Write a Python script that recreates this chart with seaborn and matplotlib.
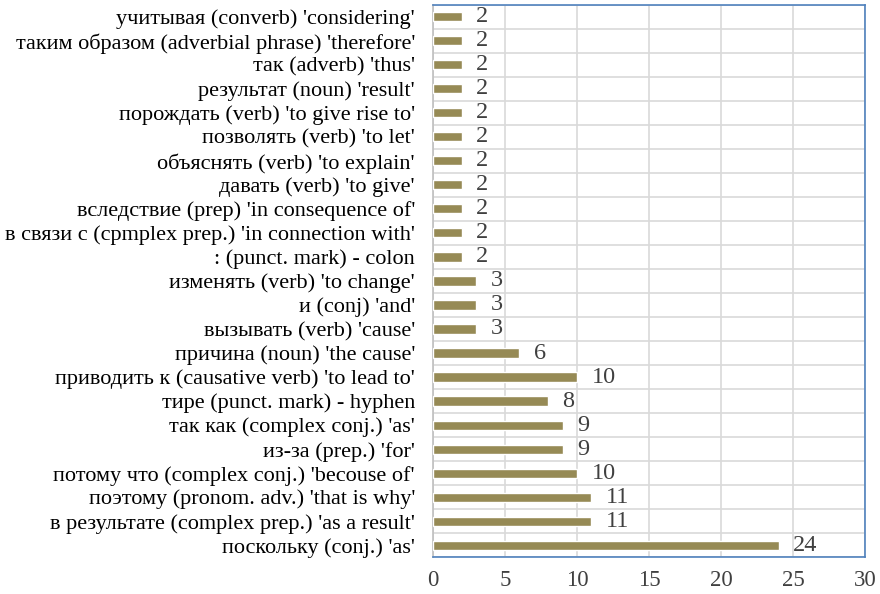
import matplotlib
matplotlib.use("Agg")
import matplotlib.pyplot as plt
import seaborn as sns
import pandas as pd
import numpy as np

categories = [
    "учитывая (converb) 'considering'",
    "таким образом (adverbial phrase) 'therefore'",
    "так (adverb) 'thus'",
    "результат (noun) 'result'",
    "порождать (verb) 'to give rise to'",
    "позволять (verb) 'to let'",
    "объяснять (verb) 'to explain'",
    "давать (verb) 'to give'",
    "вследствие (prep) 'in consequence of'",
    "в связи с (cpmplex prep.) 'in connection with'",
    ": (punct. mark) - colon",
    "изменять (verb) 'to change'",
    "и (conj) 'and'",
    "вызывать (verb) 'cause'",
    "причина (noun) 'the cause'",
    "приводить к (causative verb) 'to lead to'",
    "тире (punct. mark) - hyphen",
    "так как (complex conj.) 'as'",
    "из-за (prep.) 'for'",
    "потому что (complex conj.) 'becouse of'",
    "поэтому (pronom. adv.) 'that is why'",
    "в результате (complex prep.) 'as a result'",
    "поскольку (conj.) 'as'",
]
values = [2, 2, 2, 2, 2, 2, 2, 2, 2, 2, 2, 3, 3, 3, 6, 10, 8, 9, 9, 10, 11, 11, 24]
x_ticks = [0, 5, 10, 15, 20, 25, 30]

df = pd.DataFrame({"category": categories, "value": values})

sns.set_style("white")
plt.rcParams["font.family"] = ["Liberation Serif", "DejaVu Serif"]

fig = plt.figure(figsize=(8.8, 5.94), dpi=100)
ax = fig.add_axes([0.492, 0.062, 0.491, 0.930])

bar_color = "#968A55"
sns.barplot(data=df, x="value", y="category", color=bar_color, width=0.38,
            saturation=1, ax=ax, zorder=3)

ax.set_xlim(0, 30)
ax.set_ylim(len(categories) - 0.5, -0.5)
ax.set_xticks(x_ticks)
ax.set_xticklabels([str(t) for t in x_ticks], fontsize=16.5, color="#404040")
ax.set_yticks(range(len(categories)))
ax.set_yticklabels(categories, fontsize=16, color="black")
ax.set_yticks(np.arange(-0.5, len(categories), 1), minor=True)
ax.tick_params(axis="both", which="both", length=0)
ax.tick_params(axis="x", pad=9)
ax.tick_params(axis="y", pad=13)
ax.grid(axis="x", which="major", color="#D9D9D9", linewidth=1.2, zorder=0)
ax.grid(axis="y", which="minor", color="#D9D9D9", linewidth=1.2, zorder=0)
ax.grid(axis="y", which="major", visible=False)
ax.set_xlabel("")
ax.set_ylabel("")
for s in ax.spines.values():
    s.set_visible(True)
    s.set_color("#4F81BD")
    s.set_linewidth(1.2)
ax.spines["left"].set_color("#BFBFBF")

for i, v in enumerate(values):
    ax.text(v + 1.0, i, str(v), va="center", ha="left", fontsize=17.5, color="#404040", zorder=4)

fig.savefig("out.png", dpi=100)
